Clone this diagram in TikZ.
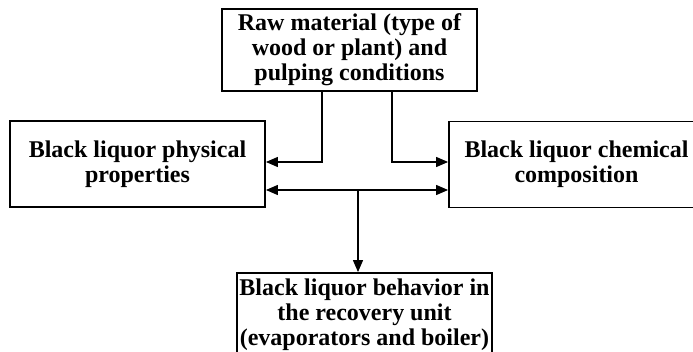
\documentclass[tikz,border=0pt]{standalone}
\usepackage{fontspec}
\setmainfont{Liberation Serif}
\usetikzlibrary{arrows.meta}
\begin{document}
\begin{tikzpicture}[x=1pt,y=1pt,
  box/.style={draw, line width=1.8pt, inner sep=0pt, minimum width=255pt, align=center,
    font=\fontsize{24}{25}\selectfont\bfseries},
  arr/.style={line width=1.2pt, -{Triangle[length=12pt,width=10pt]}},
  darr/.style={line width=1.2pt, {Triangle[length=12pt,width=10pt]}-{Triangle[length=12pt,width=10pt]}}]
\useasboundingbox[fill=white] (0,0) rectangle (693,-352);
\node[box, minimum height=82pt] (top) at (349.5,-50) {Raw material (type of\\wood or plant) and\\pulping conditions};
\node[box, minimum height=86pt] (left) at (137.5,-164) {Black liquor physical\\properties};
\node[box, minimum height=86pt] (right) at (576.5,-164.5) {Black liquor chemical\\composition};
\node[box, minimum height=84pt] (bottom) at (364.5,-315) {Black liquor behavior in\\the recovery unit\\(evaporators and boiler)};
\coordinate (j) at (358,-190);
\draw[arr] ([xshift=-27.5pt]top.south) |- ([yshift=2pt]left.east);
\draw[arr] ([xshift=42.5pt]top.south) |- ([yshift=2.5pt]right.west);
\draw[darr] (left.east |- j) -- (right.west |- j);
\draw[arr] (j) -- (j |- bottom.north);
\end{tikzpicture}
\end{document}
